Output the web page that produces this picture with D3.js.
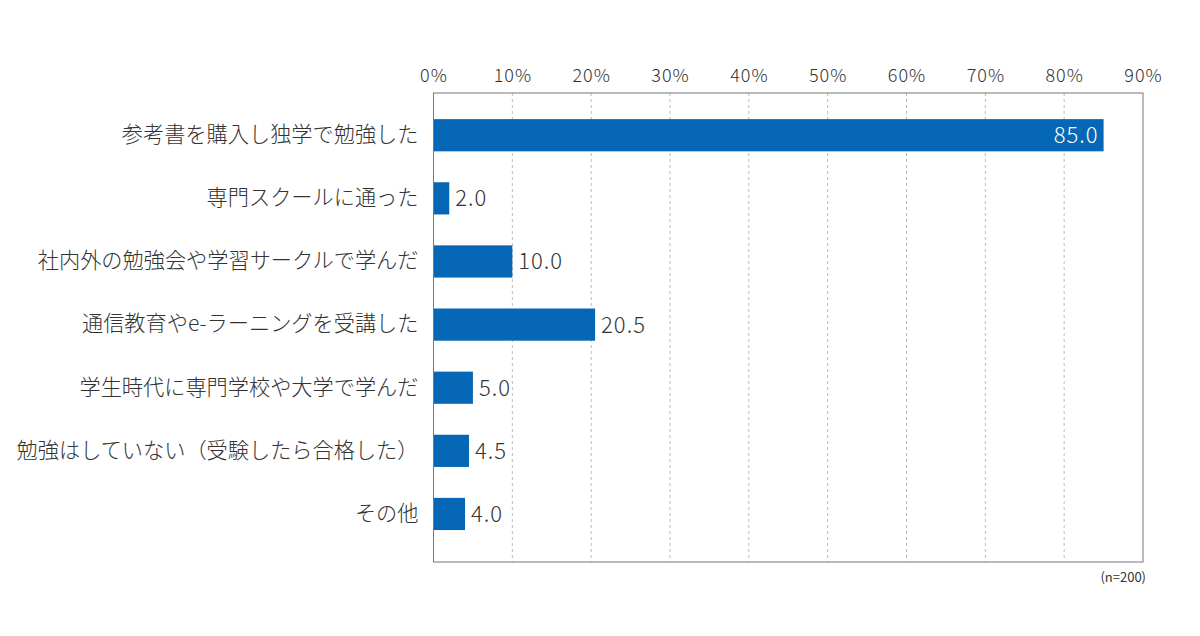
<!DOCTYPE html>
<html>
<head>
<meta charset="utf-8">
<script src="https://cdn.jsdelivr.net/npm/d3@7"></script>
<style>
  body { margin: 0; background: #fff; }
  text { font-family: "Noto Sans CJK JP", "Noto Sans", sans-serif; fill: #333; }
</style>
</head>
<body>
<svg id="chart" width="1200" height="636"></svg>
<script>
var categories = [
  "参考書を購入し独学で勉強した",
  "専門スクールに通った",
  "社内外の勉強会や学習サークルで学んだ",
  "通信教育やe-ラーニングを受講した",
  "学生時代に専門学校や大学で学んだ",
  "勉強はしていない（受験したら合格した）",
  "その他"
];
var values = [85.0, 2.0, 10.0, 20.5, 5.0, 4.5, 4.0];
var tickValues = [0, 10, 20, 30, 40, 50, 60, 70, 80, 90];
var note = "(n=200)";

var svg = d3.select("#chart"),
  margin = { top: 93, right: 57, bottom: 74, left: 433.5 },
  width = +svg.attr("width") - margin.left - margin.right,
  height = +svg.attr("height") - margin.top - margin.bottom;

var x = d3.scaleLinear().domain([0, 90]).range([0, width]);
var y = d3.scaleBand()
  .domain(categories)
  .range([0, height])
  .paddingInner(0.49)
  .paddingOuter(0.46)
  .align(0.45);

var g = svg.append("g")
  .attr("transform", "translate(" + margin.left + "," + margin.top + ")");

// dashed grid
g.selectAll(".grid")
  .data(tickValues.slice(1, -1))
  .enter()
  .append("line")
  .attr("x1", function (d) { return x(d); })
  .attr("x2", function (d) { return x(d); })
  .attr("y1", 0)
  .attr("y2", height)
  .attr("stroke", "#bbb")
  .attr("stroke-width", 1)
  .attr("stroke-dasharray", "3,3");

// top axis labels
var xAxis = g.append("g")
  .call(d3.axisTop(x).tickValues(tickValues).tickSize(0).tickPadding(11)
    .tickFormat(function (d) { return d + "%"; }));
xAxis.select(".domain").remove();
xAxis.selectAll("text")
  .style("font-size", "18px")
  .style("font-weight", 300)
  .style("letter-spacing", "1px")
  .attr("fill", "#333");

// bars
g.selectAll(".bar")
  .data(values)
  .enter()
  .append("rect")
  .attr("class", "bar")
  .attr("x", 0)
  .attr("y", function (d, i) { return y(categories[i]); })
  .attr("width", function (d) { return x(d); })
  .attr("height", y.bandwidth())
  .attr("fill", "#0567b5");

// value labels
g.selectAll(".val")
  .data(values)
  .enter()
  .append("text")
  .attr("class", "val")
  .attr("x", function (d) { return d > 50 ? x(d) - 5 : x(d) + 6; })
  .attr("y", function (d, i) { return y(categories[i]) + y.bandwidth() / 2; })
  .attr("dy", "0.36em")
  .attr("text-anchor", function (d) { return d > 50 ? "end" : "start"; })
  .style("font-size", "22px")
  .style("font-weight", 300)
  .style("letter-spacing", "1px")
  .style("fill", function (d) { return d > 50 ? "#fff" : "#333"; })
  .text(function (d) { return d.toFixed(1); });

// category labels
var yAxis = g.append("g")
  .call(d3.axisLeft(y).tickSize(0).tickPadding(15));
yAxis.select(".domain").remove();
yAxis.selectAll("text")
  .style("font-size", "21.2px")
  .style("font-weight", 300)
  .attr("fill", "#333");

// frame
g.append("rect")
  .attr("x", 0)
  .attr("y", 0)
  .attr("width", width)
  .attr("height", height)
  .attr("fill", "none")
  .attr("stroke", "#777")
  .attr("stroke-width", 1);

svg.append("text")
  .attr("x", margin.left + width + 3)
  .attr("y", margin.top + height + 20)
  .attr("text-anchor", "end")
  .style("font-size", "13px")
  .text(note);
</script>
</body>
</html>
